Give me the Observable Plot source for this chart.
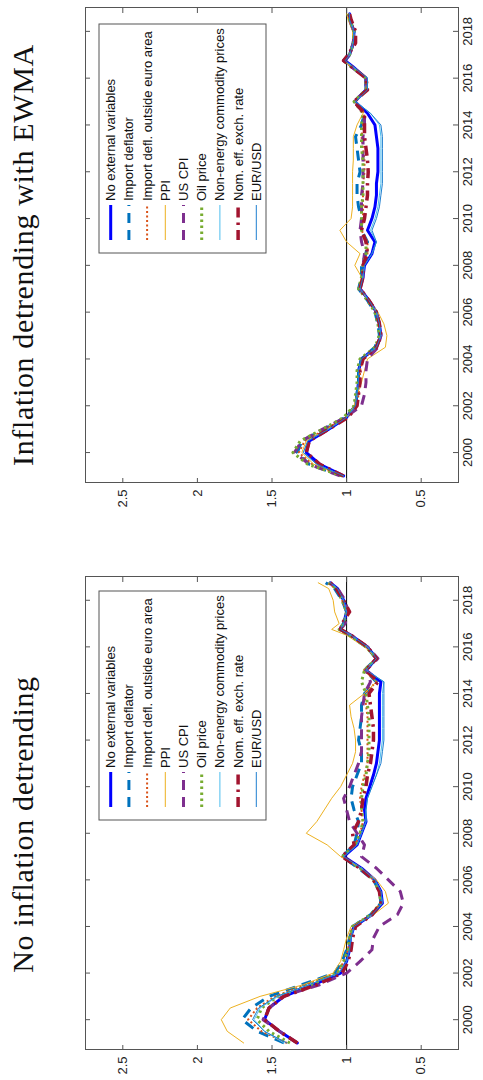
<!DOCTYPE html>
<html><head><meta charset="utf-8">
<script src="https://cdn.jsdelivr.net/npm/d3@7"></script>
<script src="https://cdn.jsdelivr.net/npm/@observablehq/plot@0.6"></script>
<style>
html,body{margin:0;padding:0;background:#fff;overflow:hidden;width:483px;height:1080px;}
#fig{position:absolute;left:0;top:0;width:1080px;height:483px;transform-origin:0 0;transform:translate(0px,1080px) rotate(-90deg);background:#fff;}
.panel{position:absolute;top:0;width:540px;height:483px;}
.panel svg{position:absolute;left:0;top:0;}
</style></head><body><div id="fig"></div>
<script>
// ---- tick labels ----
const yearTicks = [2000,2002,2004,2006,2008,2010,2012,2014,2016,2018];
const valueTicks = [0.5,1,1.5,2,2.5];

// ---- categories ----
const seriesNames = ["No external variables","Import deflator","Import defl. outside euro area","PPI","US CPI","Oil price","Non-energy commodity prices","Nom. eff. exch. rate","EUR/USD"];
const panelTitles = ["No inflation detrending","Inflation detrending with EWMA"];

// ---- time grid (years) ----
const dates = [1999.0,1999.5,2000.0,2000.5,2001.0,2001.5,2002.0,2002.5,2003.0,2003.5,2004.0,2004.5,2005.0,2005.5,2006.0,2006.5,2007.0,2007.5,2008.0,2008.5,2009.0,2009.5,2010.0,2010.5,2011.0,2011.5,2012.0,2012.5,2013.0,2013.5,2014.0,2014.5,2015.0,2015.5,2016.0,2016.5,2016.75,2017.0,2017.5,2018.0,2018.5,2018.75];

// ---- Panel A: No inflation detrending ----
const a_noExt     = [1.33,1.45,1.55,1.52,1.42,1.22,1.04,1.0,0.98,0.975,0.95,0.83,0.76,0.77,0.81,0.9,1.02,0.93,0.9,0.87,0.88,0.87,0.845,0.82,0.8,0.79,0.78,0.78,0.78,0.78,0.78,0.77,0.87,0.8,0.86,0.97,1.045,1.02,1.0,1.02,1.06,1.11];
const a_impDefl   = [1.42,1.6,1.7,1.64,1.52,1.3,1.08,1.03,1.0,0.98,0.96,0.84,0.77,0.78,0.82,0.92,1.03,0.95,0.93,0.92,0.95,0.97,0.96,0.93,0.9,0.9,0.92,0.91,0.9,0.9,0.88,0.8,0.88,0.8,0.87,0.98,1.05,1.02,1.0,1.03,1.08,1.14];
const a_impOut    = [1.4,1.57,1.66,1.6,1.48,1.27,1.06,1.02,0.99,0.98,0.96,0.84,0.77,0.78,0.82,0.91,1.03,0.94,0.91,0.89,0.9,0.91,0.9,0.88,0.86,0.86,0.86,0.86,0.86,0.87,0.88,0.8,0.88,0.8,0.87,0.98,1.05,1.02,1.0,1.03,1.07,1.13];
const a_ppi       = [1.69,1.8,1.84,1.78,1.58,1.29,1.09,1.04,1.02,1.0,0.97,0.82,0.72,0.74,0.8,0.9,1.04,1.13,1.27,1.2,1.15,1.1,1.04,1.0,0.96,0.94,0.94,0.95,0.97,0.98,0.88,0.8,0.89,0.8,0.88,1.0,1.1,1.05,1.08,1.09,1.12,1.19];
const a_usCpi     = [1.33,1.45,1.56,1.52,1.43,1.18,1.0,0.91,0.83,0.82,0.78,0.66,0.62,0.64,0.72,0.8,0.9,0.88,0.93,0.98,1.0,1.02,0.98,0.95,0.92,0.9,0.9,0.9,0.9,0.89,0.88,0.84,0.87,0.79,0.86,0.97,1.04,1.01,0.99,1.01,1.06,1.11];
const a_oil       = [1.38,1.52,1.6,1.57,1.46,1.24,1.06,1.02,0.99,0.98,0.96,0.84,0.77,0.78,0.82,0.91,1.03,0.94,0.91,0.89,0.9,0.9,0.89,0.87,0.86,0.85,0.85,0.85,0.85,0.86,0.87,0.9,0.88,0.8,0.87,0.98,1.05,1.02,1.0,1.03,1.07,1.12];
const a_nonEnergy = [1.42,1.55,1.62,1.58,1.46,1.25,1.05,1.0,0.98,0.97,0.95,0.83,0.76,0.77,0.81,0.9,1.02,0.93,0.9,0.87,0.87,0.86,0.83,0.8,0.78,0.77,0.76,0.76,0.76,0.76,0.76,0.75,0.87,0.8,0.86,0.97,1.04,1.02,1.0,1.02,1.06,1.11];
const a_nomEff    = [1.33,1.45,1.55,1.52,1.42,1.2,1.03,0.99,0.97,0.96,0.94,0.83,0.77,0.78,0.82,0.91,1.03,0.95,0.96,0.92,0.9,0.89,0.87,0.86,0.84,0.83,0.82,0.82,0.83,0.84,0.85,0.79,0.87,0.8,0.86,0.97,1.04,1.03,0.98,1.02,1.07,1.11];
const a_eurUsd    = [1.4,1.55,1.63,1.59,1.47,1.25,1.05,1.0,0.98,0.97,0.95,0.83,0.76,0.77,0.81,0.9,1.02,0.93,0.9,0.87,0.87,0.86,0.83,0.8,0.77,0.76,0.75,0.75,0.75,0.75,0.75,0.75,0.87,0.8,0.86,0.97,1.04,1.02,1.0,1.02,1.06,1.11];

// ---- Panel B: Inflation detrending with EWMA ----
const b_noExt     = [1.02,1.18,1.27,1.25,1.12,1.0,0.94,0.93,0.92,0.92,0.9,0.8,0.77,0.78,0.8,0.85,0.91,0.89,0.88,0.83,0.81,0.86,0.83,0.81,0.8,0.8,0.79,0.79,0.79,0.8,0.81,0.86,0.945,0.87,0.87,0.96,1.01,0.98,0.955,0.95,0.98,0.98];
const b_impDefl   = [1.03,1.25,1.33,1.3,1.15,1.01,0.94,0.93,0.92,0.92,0.9,0.81,0.78,0.79,0.81,0.86,0.92,0.9,0.9,0.87,0.86,0.9,0.9,0.92,0.93,0.93,0.91,0.92,0.93,0.94,0.9,0.88,0.95,0.87,0.87,0.97,1.02,0.98,0.955,0.95,0.98,0.99];
const b_impOut    = [1.03,1.23,1.32,1.28,1.14,1.0,0.93,0.92,0.91,0.91,0.89,0.8,0.77,0.78,0.8,0.85,0.91,0.89,0.89,0.86,0.86,0.9,0.89,0.89,0.89,0.89,0.88,0.88,0.89,0.9,0.89,0.88,0.95,0.87,0.87,0.97,1.02,0.98,0.955,0.95,0.98,0.99];
const b_ppi       = [1.03,1.22,1.3,1.27,1.13,1.0,0.95,0.93,0.9,0.88,0.86,0.74,0.73,0.75,0.79,0.85,0.92,0.9,0.945,0.91,1.0,1.045,0.97,0.96,0.96,0.96,0.96,0.955,0.955,0.955,0.93,0.89,0.95,0.87,0.87,0.97,1.02,0.98,0.96,0.96,0.99,1.0];
const b_usCpi     = [1.045,1.25,1.35,1.3,1.16,1.01,0.9,0.88,0.87,0.87,0.86,0.79,0.77,0.78,0.8,0.85,0.91,0.89,0.89,0.88,0.9,0.91,0.9,0.9,0.9,0.89,0.89,0.89,0.89,0.89,0.88,0.88,0.95,0.87,0.87,0.97,1.02,0.98,0.955,0.95,0.98,0.99];
const b_oil       = [1.03,1.26,1.36,1.31,1.16,1.02,0.95,0.94,0.93,0.93,0.91,0.81,0.78,0.79,0.81,0.86,0.92,0.9,0.89,0.87,0.87,0.9,0.9,0.9,0.89,0.89,0.89,0.89,0.9,0.9,0.9,0.89,0.95,0.87,0.87,0.97,1.02,0.98,0.955,0.95,0.98,0.99];
const b_nonEnergy = [1.02,1.2,1.29,1.26,1.12,1.0,0.94,0.93,0.92,0.92,0.9,0.8,0.77,0.78,0.8,0.85,0.91,0.89,0.88,0.83,0.8,0.84,0.81,0.79,0.78,0.77,0.77,0.77,0.77,0.77,0.78,0.84,0.94,0.86,0.86,0.96,1.01,0.98,0.955,0.95,0.98,0.98];
const b_nomEff    = [1.02,1.18,1.27,1.25,1.12,0.99,0.93,0.92,0.91,0.91,0.89,0.8,0.77,0.78,0.8,0.85,0.91,0.89,0.89,0.86,0.87,0.9,0.88,0.87,0.86,0.86,0.855,0.86,0.87,0.88,0.88,0.88,0.95,0.86,0.87,0.97,1.02,0.99,0.94,0.94,0.97,0.98];
const b_eurUsd    = [1.02,1.2,1.29,1.26,1.12,1.0,0.94,0.93,0.92,0.92,0.9,0.8,0.77,0.78,0.8,0.85,0.91,0.89,0.88,0.83,0.8,0.83,0.8,0.78,0.77,0.76,0.76,0.76,0.76,0.76,0.77,0.84,0.94,0.86,0.86,0.96,1.01,0.98,0.955,0.95,0.98,0.98];

// ---- styles (kept apart from the data) ----
const styles = [
  {stroke:"#0000FF", width:3,   dash:null},
  {stroke:"#0072BD", width:3,   dash:"10,7"},
  {stroke:"#D95319", width:2,   dash:"2,2.5"},
  {stroke:"#EDB120", width:1,   dash:null},
  {stroke:"#7E2F8E", width:3,   dash:"10,7"},
  {stroke:"#77AC30", width:3,   dash:"2.5,3.5"},
  {stroke:"#4DBEEE", width:1,   dash:null},
  {stroke:"#A2142F", width:3.5, dash:"10,5,2.5,5"},
  {stroke:"#1F7FD0", width:1,   dash:null}
];

const panelA = [a_noExt,a_impDefl,a_impOut,a_ppi,a_usCpi,a_oil,a_nonEnergy,a_nomEff,a_eurUsd];
const panelB = [b_noExt,b_impDefl,b_impOut,b_ppi,b_usCpi,b_oil,b_nonEnergy,b_nomEff,b_eurUsd];

const fig = document.getElementById("fig");
const W = 540, H = 483, mT = 85, mB = 25;
const sans = "'Liberation Sans', Arial, Helvetica, sans-serif";

function makePanel(x0, mL, mR, title, arrays, titleCx, legX) {
  const div = document.createElement("div");
  div.className = "panel";
  div.style.left = x0 + "px";
  fig.appendChild(div);
  const innerW = W - mL - mR, innerH = H - mT - mB;
  const lines = arrays.map((arr, s) => {
    const rows = dates.map((t, i) => ({t, v: arr[i]}));
    const st = styles[s];
    return Plot.line(rows, {x: "t", y: "v", stroke: st.stroke, strokeWidth: st.width,
      strokeDasharray: st.dash ?? undefined, strokeLinejoin: "round", strokeLinecap: st.dash ? "butt" : "round"});
  });
  const axisCol = "#555";
  const p = Plot.plot({
    width: W, height: H, marginLeft: mL, marginRight: mR, marginTop: mT, marginBottom: mB,
    style: {fontFamily: sans, fontSize: "13px", color: "#222", background: "transparent", overflow: "visible"},
    x: {domain: [1998.72, 2019.02], label: null},
    y: {domain: [0.25, 2.75], label: null},
    marks: [
      Plot.ruleY([1], {stroke: "black", strokeWidth: 1}),
      ...lines,
      Plot.frame({stroke: axisCol, strokeWidth: 1}),
      Plot.tickX(yearTicks, {x: d => d, insetTop: innerH - 5, stroke: axisCol}),
      Plot.tickX(yearTicks, {x: d => d, insetBottom: innerH - 5, stroke: axisCol}),
      Plot.tickY(valueTicks, {y: d => d, insetRight: innerW - 5, stroke: axisCol}),
      Plot.tickY(valueTicks, {y: d => d, insetLeft: innerW - 5, stroke: axisCol}),
      Plot.axisX({ticks: yearTicks, tickSize: 0, tickPadding: 4, tickFormat: d => String(d), label: null}),
      Plot.axisY({ticks: valueTicks, tickSize: 0, tickPadding: 7, tickFormat: d => String(d), label: null})
    ]
  });
  div.appendChild(p);

  // overlay: title + legend
  const svg = d3.select(div).append("svg").attr("width", W).attr("height", H);
  svg.append("text").attr("x", titleCx).attr("y", 33).attr("text-anchor", "middle")
    .attr("font-family", "'Liberation Serif', 'Times New Roman', serif").attr("font-size", 30)
    .attr("letter-spacing", "0.65px").attr("fill", "#111").text(title);
  const lg = svg.append("g").attr("transform", `translate(${legX},99)`);
  lg.append("rect").attr("width", 229).attr("height", 167).attr("fill", "white").attr("stroke", axisCol);
  seriesNames.forEach((name, i) => {
    const y = 11.7 + i * 18.2, st = styles[i];
    lg.append("line").attr("x1", 13).attr("x2", 48).attr("y1", y).attr("y2", y)
      .attr("stroke", st.stroke).attr("stroke-width", st.width)
      .attr("stroke-dasharray", st.dash).attr("fill", "none");
    lg.append("text").attr("x", 52).attr("y", y).attr("dy", "0.35em")
      .attr("font-family", sans).attr("font-size", 13).attr("fill", "#111").text(name);
  });
}

makePanel(0,   30, 37, panelTitles[0], panelA, 255.5, 260);
makePanel(540, 57, 8,  panelTitles[1], panelB, 285,   287);
</script></body></html>
